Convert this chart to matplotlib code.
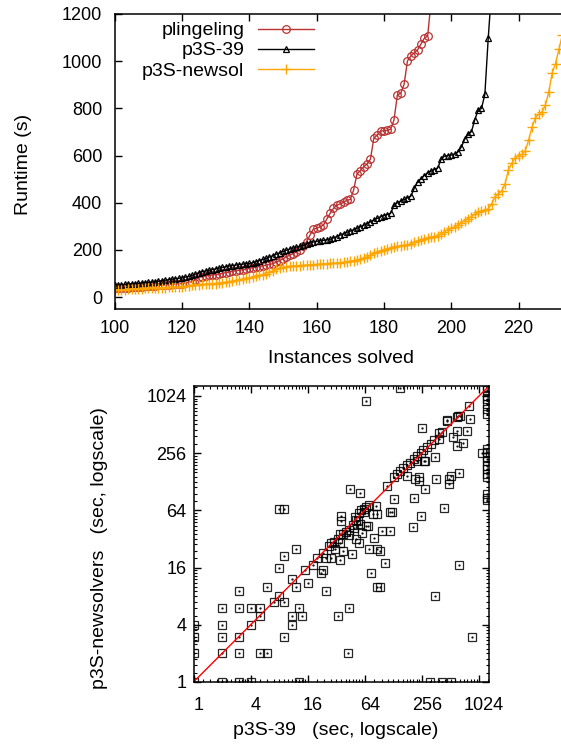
import matplotlib
matplotlib.use("Agg")
import matplotlib.pyplot as plt
import matplotlib.transforms as mtransforms
from matplotlib.ticker import FixedLocator, FixedFormatter, NullFormatter

plt.rcParams["font.family"] = ["Liberation Sans", "DejaVu Sans"]

# ---- top: cactus plot (runtime of the n-th solved instance) ----
pling_start = 100
pling_time = [37, 38, 39, 40, 41, 42, 43, 44, 45, 46, 47, 48, 49, 50, 51, 52, 53, 55, 56, 57,
              58, 60, 63, 66, 72, 84, 87, 90, 92, 94, 96, 98, 101, 104, 107, 110, 112, 114, 116, 119,
              122, 125, 128, 130, 133, 136, 139, 142, 148, 155, 162, 171, 178, 185, 192, 199, 215, 235, 262, 288,
              292, 298, 305, 330, 355, 376, 390, 395, 402, 411, 414, 454, 522, 536, 553, 564, 585, 673, 687, 704,
              705, 707, 712, 751, 857, 864, 902, 1001, 1022, 1035, 1048, 1072, 1097, 1107, 1250]

p39_start = 100
p39_time = [51, 52, 53, 55, 56, 57, 58, 59, 61, 62, 63, 65, 66, 68, 70, 72, 74, 76, 78, 80,
            82, 85, 88, 92, 98, 104, 108, 111, 114, 117, 120, 123, 126, 129, 132, 134, 136, 138, 140, 142,
            143, 146, 150, 155, 160, 164, 170, 176, 182, 188, 194, 199, 204, 208, 212, 216, 220, 225, 230, 234,
            237, 239, 241, 243, 245, 251, 257, 263, 269, 275, 280, 286, 292, 298, 305, 312, 319, 326, 334, 341,
            346, 350, 355, 390, 400, 407, 414, 421, 428, 461, 489, 502, 515, 528, 534, 541, 548, 584, 598, 600,
            602, 607, 615, 636, 669, 690, 701, 751, 793, 800, 859, 1097, 1300]

newsol_start = 100
newsol_time = [30, 31, 32, 32, 33, 34, 35, 35, 36, 37, 38, 38, 39, 40, 40, 41, 42, 42, 43, 43,
               44, 46, 48, 50, 52, 53, 54, 55, 56, 57, 58, 60, 62, 64, 66, 68, 71, 74, 77, 80,
               82, 85, 88, 92, 96, 100, 106, 112, 118, 123, 127, 129, 131, 132, 133, 134, 135, 136, 137, 138,
               139, 140, 141, 142, 143, 144, 145, 146, 148, 150, 153, 155, 157, 160, 165, 171, 178, 186, 192, 197,
               200, 205, 209, 212, 215, 218, 220, 222, 227, 233, 238, 243, 248, 252, 255, 257, 260, 268, 278, 286,
               292, 298, 307, 316, 325, 333, 341, 351, 361, 365, 369, 374, 395, 425, 438, 450, 480, 540, 567, 590,
               600, 605, 620, 665, 720, 760, 775, 785, 815, 870, 950, 990, 1050, 1110, 1160, 1220]

# ---- bottom: per-instance comparison (seconds) ----
p39_sec = [1, 2, 3, 4, 13, 1, 2, 3, 5, 6, 42, 1, 2, 3, 9, 1, 2, 4, 11,
           2, 3, 4, 5, 5, 11, 14, 13, 33, 43, 3, 6, 7, 8, 9, 11, 12, 16, 25,
           8, 9, 12, 15, 18, 22, 23, 20, 23, 25, 28, 28, 31, 35, 35, 38, 35, 36, 36, 47, 44, 49,
           52, 55, 57, 60, 62, 65, 69, 8, 9, 45, 57, 65, 51, 70, 78, 71, 86, 75, 86, 79, 86, 84,
           27, 30, 33, 38, 40, 44, 48, 54, 50, 55, 58, 63, 66,
           149, 1230, 1230, 1230, 1230, 1230, 1230, 1230, 1230, 1230, 1230, 1230, 1230, 1230, 1230,
           1230, 1230, 1230, 1230, 1105,
           800, 813, 755, 602, 471, 610, 642, 545, 592, 695, 258, 419, 386, 349, 267, 355, 278, 210,
           247, 437, 205, 627, 491, 512, 627, 349, 867, 311, 419, 520, 131, 117, 124, 97, 117, 93, 103, 93,
           110, 129, 140, 151, 163, 179, 190, 210, 225, 247, 265, 290, 315, 340, 386, 471, 602,
           179, 218, 237, 228, 278, 237, 491]
newsol_sec = [1, 1, 1, 1, 1, 2, 2, 2, 2, 2, 2, 3, 3, 3, 3, 4, 4, 4, 4,
              6, 6, 6, 6, 5, 5, 5, 6, 5, 6, 9, 10, 7, 8, 7, 12, 10, 11, 9,
              16, 21, 25, 15, 17, 14, 15, 20, 23, 20, 20, 29, 25, 19, 29, 24, 36, 56, 49, 22, 35, 42,
              32, 29, 46, 37, 61, 44, 44, 66, 66, 107, 98, 900, 51, 72, 58, 25, 25, 14, 10, 33, 59, 71,
              27, 30, 32, 36, 38, 40, 45, 50, 55, 60, 64, 66, 70,
              1234, 1260, 1167, 1032, 950, 843, 745, 661, 282, 260, 231, 212, 189, 174, 153,
              142, 94, 87, 82, 256,
              810, 585, 440, 440, 576, 624, 635, 375, 306, 324, 467, 424, 360, 231, 212, 136, 107, 87,
              56, 67, 43, 158, 136, 147, 17, 8, 3, 1, 1, 1, 85, 62, 62, 39, 39, 24, 18, 10,
              114, 142, 153, 167, 180, 191, 200, 221, 240, 256, 275, 294, 321, 350, 416, 560, 608,
              147, 136, 142, 212, 212, 131, 120]

pling_n = list(range(pling_start, pling_start + len(pling_time)))
p39_n = list(range(p39_start, p39_start + len(p39_time)))
newsol_n = list(range(newsol_start, newsol_start + len(newsol_time)))

W, H = 561, 744
fig = plt.figure(figsize=(W / 100, H / 100), dpi=100)


def box(x0, y0, x1, y1):
    # pixel box -> figure coords
    return [x0 / W, 1 - y1 / H, (x1 - x0) / W, (y1 - y0) / H]


# top panel (right edge runs off the canvas like in the original crop)
ax1 = fig.add_axes(box(114.7, 14, 575, 309))
ax1.plot(pling_n, pling_time, "-", color="#b83232", lw=1, marker="o", ms=5.5,
         mfc="none", mec="#b83232", mew=0.9, label="plingeling")
ax1.plot(p39_n, p39_time, "-", color="black", lw=1, marker="^", ms=5,
         mfc="none", mec="black", mew=0.9, label="p3S-39")
ax1.plot(newsol_n, newsol_time, "-", color="#ffa500", lw=1, marker="+", ms=7,
         mew=1.0, label="p3S-newsol")
ax1.set_xlim(100, 100 + (575 - 114.7) / 3.365)
ax1.set_ylim(-50, 1200)
ax1.set_xticks([100, 120, 140, 160, 180, 200, 220])
ax1.set_yticks([0, 200, 400, 600, 800, 1000, 1200])
ax1.tick_params(direction="in", top=True, right=True, length=5, width=1,
                labelsize=13)
ax1.tick_params(axis="y", pad=9)
ax1.tick_params(axis="x", pad=8)
ax1.set_xlabel("Instances solved", fontsize=14)
ax1.set_ylabel("Runtime (s)", fontsize=14)
ax1.xaxis.set_label_coords(0.4916, -0.14)
ax1.yaxis.set_label_coords(-0.18, 0.49)
for s in ax1.spines.values():
    s.set_linewidth(1.1)
ax1.legend(loc="upper left", bbox_to_anchor=(0.03, 1.02), frameon=False,
           markerfirst=False, fontsize=14, handlelength=2.9, handletextpad=0.7,
           labelspacing=0.13, borderpad=0.2)

# bottom panel: log2 scatter
ax2 = fig.add_axes(box(193.5, 386, 489, 682))
ax2.plot(p39_sec, newsol_sec, "s", ls="none", ms=5.5, mfc="none", mec="black",
         mew=0.9, alpha=0.85)
ax2.plot(p39_sec, newsol_sec, ".", ls="none", ms=1.2, color="black")
lim = (1, 1300)
ax2.plot(lim, lim, "-", color="red", lw=1)
ax2.set_xscale("log", base=2)
ax2.set_yscale("log", base=2)
ax2.set_xlim(*lim)
ax2.set_ylim(*lim)
majors = [1, 4, 16, 64, 256, 1024]
minors = [m * (1 + j / 4) for m in majors for j in range(1, 12)]
for axis in (ax2.xaxis, ax2.yaxis):
    axis.set_major_locator(FixedLocator(majors))
    axis.set_major_formatter(FixedFormatter([str(m) for m in majors]))
    axis.set_minor_locator(FixedLocator(minors))
    axis.set_minor_formatter(NullFormatter())
ax2.tick_params(which="both", direction="in", top=True, right=True, labelsize=13)
ax2.tick_params(which="major", length=5, width=1)
ax2.tick_params(which="minor", length=2.5, width=0.8)
ax2.tick_params(axis="x", pad=11)
ax2.tick_params(axis="y", pad=5)
for s in ax2.spines.values():
    s.set_linewidth(1.1)
offset = mtransforms.ScaledTranslation(5 / 100, 0, fig.dpi_scale_trans)
for lab in ax2.get_xticklabels():
    lab.set_transform(lab.get_transform() + offset)
ax2.set_xlabel("p3S-39   (sec, logscale)", fontsize=14)
ax2.set_ylabel("p3S-newsolvers   (sec, logscale)", fontsize=14)
ax2.xaxis.set_label_coords(0.482, -0.135)
ax2.yaxis.set_label_coords(-0.29, 0.453)

fig.savefig("out.png", dpi=100)
